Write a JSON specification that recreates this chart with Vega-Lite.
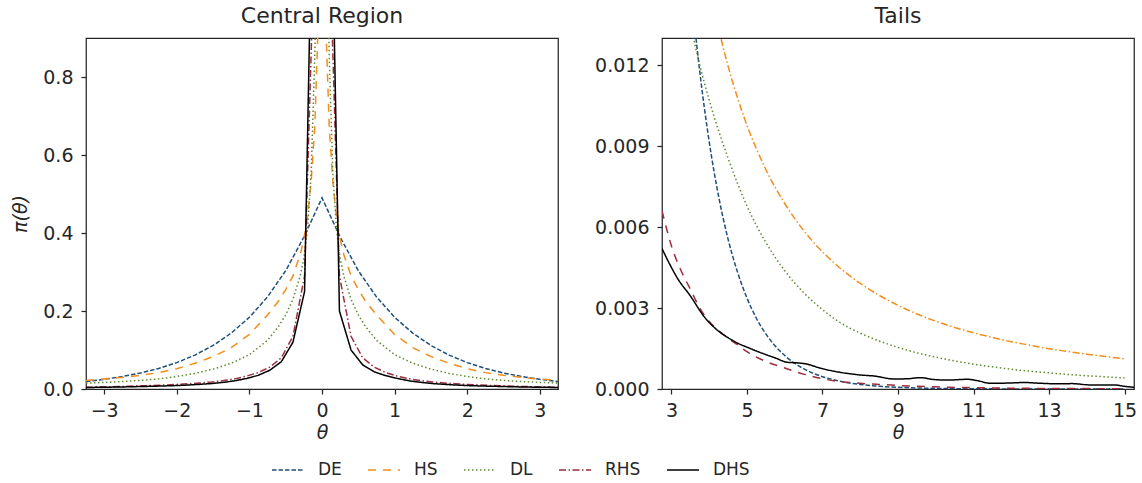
{
"$schema":"https://vega.github.io/schema/vega-lite/v6.json",
"background":"white",
"padding":{"left":11,"top":4,"right":5,"bottom":5},
"spacing":104,
"bounds":"flush",
"datasets":{
"central":[
{"s":"DE","x":-3.25,"y":0.0194},{"s":"DE","x":-3,"y":0.0249},{"s":"DE","x":-2.75,"y":0.032},{"s":"DE","x":-2.5,"y":0.041},{"s":"DE","x":-2.25,"y":0.0527},{"s":"DE","x":-2,"y":0.0677},{"s":"DE","x":-1.75,"y":0.0869},{"s":"DE","x":-1.5,"y":0.1116},{"s":"DE","x":-1.25,"y":0.1433},{"s":"DE","x":-1,"y":0.1839},{"s":"DE","x":-0.75,"y":0.2362},{"s":"DE","x":-0.5,"y":0.3033},{"s":"DE","x":-0.25,"y":0.3894},{"s":"DE","x":0,"y":0.49},{"s":"DE","x":0.25,"y":0.3894},{"s":"DE","x":0.5,"y":0.3033},{"s":"DE","x":0.75,"y":0.2362},{"s":"DE","x":1,"y":0.1839},{"s":"DE","x":1.25,"y":0.1433},{"s":"DE","x":1.5,"y":0.1116},{"s":"DE","x":1.75,"y":0.0869},{"s":"DE","x":2,"y":0.0677},{"s":"DE","x":2.25,"y":0.0527},{"s":"DE","x":2.5,"y":0.041},{"s":"DE","x":2.75,"y":0.032},{"s":"DE","x":3,"y":0.0249},{"s":"DE","x":3.25,"y":0.0194},
{"s":"HS","x":-3.25,"y":0.022},{"s":"HS","x":-3,"y":0.0255},{"s":"HS","x":-2.75,"y":0.03},{"s":"HS","x":-2.5,"y":0.035},{"s":"HS","x":-2.25,"y":0.042},{"s":"HS","x":-2,"y":0.052},{"s":"HS","x":-1.75,"y":0.066},{"s":"HS","x":-1.5,"y":0.083},{"s":"HS","x":-1.25,"y":0.106},{"s":"HS","x":-1,"y":0.14},{"s":"HS","x":-0.75,"y":0.19},{"s":"HS","x":-0.6,"y":0.225},{"s":"HS","x":-0.5,"y":0.255},{"s":"HS","x":-0.4,"y":0.29},{"s":"HS","x":-0.3,"y":0.345},{"s":"HS","x":-0.25,"y":0.385},{"s":"HS","x":-0.2,"y":0.44},{"s":"HS","x":-0.15,"y":0.53},{"s":"HS","x":-0.1,"y":0.67},{"s":"HS","x":-0.05,"y":0.95},{"s":"HS","x":0,"y":3},{"s":"HS","x":0.05,"y":0.95},{"s":"HS","x":0.1,"y":0.67},{"s":"HS","x":0.15,"y":0.53},{"s":"HS","x":0.2,"y":0.44},{"s":"HS","x":0.25,"y":0.385},{"s":"HS","x":0.3,"y":0.345},{"s":"HS","x":0.4,"y":0.29},{"s":"HS","x":0.5,"y":0.255},{"s":"HS","x":0.6,"y":0.225},{"s":"HS","x":0.75,"y":0.19},{"s":"HS","x":1,"y":0.14},{"s":"HS","x":1.25,"y":0.106},{"s":"HS","x":1.5,"y":0.083},{"s":"HS","x":1.75,"y":0.066},{"s":"HS","x":2,"y":0.052},{"s":"HS","x":2.25,"y":0.042},{"s":"HS","x":2.5,"y":0.035},{"s":"HS","x":2.75,"y":0.03},{"s":"HS","x":3,"y":0.0255},{"s":"HS","x":3.25,"y":0.022},
{"s":"DL","x":-3.25,"y":0.0151},{"s":"DL","x":-3,"y":0.0169},{"s":"DL","x":-2.75,"y":0.019},{"s":"DL","x":-2.5,"y":0.022},{"s":"DL","x":-2.25,"y":0.026},{"s":"DL","x":-2,"y":0.032},{"s":"DL","x":-1.75,"y":0.04},{"s":"DL","x":-1.5,"y":0.051},{"s":"DL","x":-1.25,"y":0.066},{"s":"DL","x":-1,"y":0.088},{"s":"DL","x":-0.75,"y":0.125},{"s":"DL","x":-0.6,"y":0.16},{"s":"DL","x":-0.5,"y":0.19},{"s":"DL","x":-0.4,"y":0.23},{"s":"DL","x":-0.3,"y":0.29},{"s":"DL","x":-0.25,"y":0.335},{"s":"DL","x":-0.2,"y":0.41},{"s":"DL","x":-0.15,"y":0.55},{"s":"DL","x":-0.1,"y":0.85},{"s":"DL","x":-0.05,"y":1.3},{"s":"DL","x":0,"y":3},{"s":"DL","x":0.05,"y":1.3},{"s":"DL","x":0.1,"y":0.85},{"s":"DL","x":0.15,"y":0.55},{"s":"DL","x":0.2,"y":0.41},{"s":"DL","x":0.25,"y":0.335},{"s":"DL","x":0.3,"y":0.29},{"s":"DL","x":0.4,"y":0.23},{"s":"DL","x":0.5,"y":0.19},{"s":"DL","x":0.6,"y":0.16},{"s":"DL","x":0.75,"y":0.125},{"s":"DL","x":1,"y":0.088},{"s":"DL","x":1.25,"y":0.066},{"s":"DL","x":1.5,"y":0.051},{"s":"DL","x":1.75,"y":0.04},{"s":"DL","x":2,"y":0.032},{"s":"DL","x":2.25,"y":0.026},{"s":"DL","x":2.5,"y":0.022},{"s":"DL","x":2.75,"y":0.019},{"s":"DL","x":3,"y":0.0169},{"s":"DL","x":3.25,"y":0.0151},
{"s":"RHS","x":-3.25,"y":0.0045},{"s":"RHS","x":-3.12,"y":0.0049},{"s":"RHS","x":-2.96,"y":0.0055},{"s":"RHS","x":-2.8,"y":0.0063},{"s":"RHS","x":-2.64,"y":0.0072},{"s":"RHS","x":-2.48,"y":0.0081},{"s":"RHS","x":-2.32,"y":0.0091},{"s":"RHS","x":-2.16,"y":0.0103},{"s":"RHS","x":-2,"y":0.0117},{"s":"RHS","x":-1.84,"y":0.0134},{"s":"RHS","x":-1.68,"y":0.0155},{"s":"RHS","x":-1.52,"y":0.018},{"s":"RHS","x":-1.36,"y":0.0215},{"s":"RHS","x":-1.2,"y":0.026},{"s":"RHS","x":-1.04,"y":0.033},{"s":"RHS","x":-0.88,"y":0.042},{"s":"RHS","x":-0.72,"y":0.056},{"s":"RHS","x":-0.56,"y":0.08},{"s":"RHS","x":-0.4,"y":0.135},{"s":"RHS","x":-0.24,"y":0.29},{"s":"RHS","x":-0.08,"y":1.3},{"s":"RHS","x":0.08,"y":1.3},{"s":"RHS","x":0.24,"y":0.29},{"s":"RHS","x":0.4,"y":0.135},{"s":"RHS","x":0.56,"y":0.08},{"s":"RHS","x":0.72,"y":0.056},{"s":"RHS","x":0.88,"y":0.042},{"s":"RHS","x":1.04,"y":0.033},{"s":"RHS","x":1.2,"y":0.026},{"s":"RHS","x":1.36,"y":0.0215},{"s":"RHS","x":1.52,"y":0.018},{"s":"RHS","x":1.68,"y":0.0155},{"s":"RHS","x":1.84,"y":0.0134},{"s":"RHS","x":2,"y":0.0117},{"s":"RHS","x":2.16,"y":0.0103},{"s":"RHS","x":2.32,"y":0.0091},{"s":"RHS","x":2.48,"y":0.0081},{"s":"RHS","x":2.64,"y":0.0072},{"s":"RHS","x":2.8,"y":0.0063},{"s":"RHS","x":2.96,"y":0.0055},{"s":"RHS","x":3.12,"y":0.0049},{"s":"RHS","x":3.25,"y":0.0045},
{"s":"DHS","x":-3.25,"y":0.0039},{"s":"DHS","x":-3.12,"y":0.0042},{"s":"DHS","x":-2.96,"y":0.0046},{"s":"DHS","x":-2.8,"y":0.0051},{"s":"DHS","x":-2.64,"y":0.0057},{"s":"DHS","x":-2.48,"y":0.0064},{"s":"DHS","x":-2.32,"y":0.0071},{"s":"DHS","x":-2.16,"y":0.0079},{"s":"DHS","x":-2,"y":0.0088},{"s":"DHS","x":-1.84,"y":0.0102},{"s":"DHS","x":-1.68,"y":0.012},{"s":"DHS","x":-1.52,"y":0.014},{"s":"DHS","x":-1.36,"y":0.017},{"s":"DHS","x":-1.2,"y":0.021},{"s":"DHS","x":-1.04,"y":0.027},{"s":"DHS","x":-0.88,"y":0.035},{"s":"DHS","x":-0.72,"y":0.048},{"s":"DHS","x":-0.56,"y":0.07},{"s":"DHS","x":-0.4,"y":0.12},{"s":"DHS","x":-0.24,"y":0.25},{"s":"DHS","x":-0.08,"y":1.8},{"s":"DHS","x":0.08,"y":1.8},{"s":"DHS","x":0.24,"y":0.2},{"s":"DHS","x":0.4,"y":0.1},{"s":"DHS","x":0.56,"y":0.062},{"s":"DHS","x":0.72,"y":0.044},{"s":"DHS","x":0.88,"y":0.034},{"s":"DHS","x":1.04,"y":0.027},{"s":"DHS","x":1.2,"y":0.021},{"s":"DHS","x":1.36,"y":0.017},{"s":"DHS","x":1.52,"y":0.014},{"s":"DHS","x":1.68,"y":0.012},{"s":"DHS","x":1.84,"y":0.0102},{"s":"DHS","x":2,"y":0.0088},{"s":"DHS","x":2.16,"y":0.0079},{"s":"DHS","x":2.32,"y":0.0071},{"s":"DHS","x":2.48,"y":0.0064},{"s":"DHS","x":2.64,"y":0.0057},{"s":"DHS","x":2.8,"y":0.0051},{"s":"DHS","x":2.96,"y":0.0046},{"s":"DHS","x":3.12,"y":0.0042},{"s":"DHS","x":3.25,"y":0.0039}
],
"tails":[
{"s":"DE","x":2.75,"y":0.03197},{"s":"DE","x":3,"y":0.02489},{"s":"DE","x":3.25,"y":0.01938},{"s":"DE","x":3.5,"y":0.0151},{"s":"DE","x":3.75,"y":0.01176},{"s":"DE","x":4,"y":0.00916},{"s":"DE","x":4.25,"y":0.00713},{"s":"DE","x":4.5,"y":0.00555},{"s":"DE","x":4.75,"y":0.00433},{"s":"DE","x":5,"y":0.00337},{"s":"DE","x":5.25,"y":0.00262},{"s":"DE","x":5.5,"y":0.00204},{"s":"DE","x":5.75,"y":0.00159},{"s":"DE","x":6,"y":0.00124},{"s":"DE","x":6.25,"y":0.000965},{"s":"DE","x":6.5,"y":0.000752},{"s":"DE","x":6.75,"y":0.000585},{"s":"DE","x":7,"y":0.000456},{"s":"DE","x":7.5,"y":0.000277},{"s":"DE","x":8,"y":0.000168},{"s":"DE","x":8.5,"y":0.000102},{"s":"DE","x":9,"y":0.0000617},{"s":"DE","x":9.5,"y":0.0000374},{"s":"DE","x":10,"y":0.0000227},{"s":"DE","x":11,"y":0.0000084},{"s":"DE","x":12,"y":0.0000031},{"s":"DE","x":13,"y":0.0000011},{"s":"DE","x":14,"y":0.0000004},{"s":"DE","x":15,"y":0.00000015},
{"s":"HS","x":2.75,"y":0.0298},{"s":"HS","x":3,"y":0.0255},{"s":"HS","x":3.5,"y":0.0192},{"s":"HS","x":4,"y":0.01496},{"s":"HS","x":4.25,"y":0.01334},{"s":"HS","x":4.5,"y":0.01196},{"s":"HS","x":4.75,"y":0.01078},{"s":"HS","x":5,"y":0.00977},{"s":"HS","x":5.5,"y":0.00813},{"s":"HS","x":6,"y":0.00687},{"s":"HS","x":6.5,"y":0.00587},{"s":"HS","x":7,"y":0.00508},{"s":"HS","x":7.5,"y":0.00444},{"s":"HS","x":8,"y":0.00391},{"s":"HS","x":8.5,"y":0.00347},{"s":"HS","x":9,"y":0.0031},{"s":"HS","x":9.5,"y":0.00278},{"s":"HS","x":10,"y":0.00251},{"s":"HS","x":10.5,"y":0.00228},{"s":"HS","x":11,"y":0.00208},{"s":"HS","x":11.5,"y":0.00191},{"s":"HS","x":12,"y":0.00175},{"s":"HS","x":12.5,"y":0.00162},{"s":"HS","x":13,"y":0.00149},{"s":"HS","x":13.5,"y":0.00139},{"s":"HS","x":14,"y":0.00129},{"s":"HS","x":14.5,"y":0.0012},{"s":"HS","x":15,"y":0.00112},
{"s":"DL","x":2.75,"y":0.019},{"s":"DL","x":3,"y":0.0169},{"s":"DL","x":3.25,"y":0.0151},{"s":"DL","x":3.5,"y":0.0135},{"s":"DL","x":3.75,"y":0.012},{"s":"DL","x":4,"y":0.0107},{"s":"DL","x":4.5,"y":0.00855},{"s":"DL","x":5,"y":0.00678},{"s":"DL","x":5.5,"y":0.00543},{"s":"DL","x":6,"y":0.00438},{"s":"DL","x":6.5,"y":0.00357},{"s":"DL","x":7,"y":0.00294},{"s":"DL","x":7.5,"y":0.00243},{"s":"DL","x":8,"y":0.00207},{"s":"DL","x":8.5,"y":0.00178},{"s":"DL","x":9,"y":0.00154},{"s":"DL","x":9.5,"y":0.00134},{"s":"DL","x":10,"y":0.00118},{"s":"DL","x":10.5,"y":0.00104},{"s":"DL","x":11,"y":0.00092},{"s":"DL","x":11.5,"y":0.00082},{"s":"DL","x":12,"y":0.00073},{"s":"DL","x":12.5,"y":0.00066},{"s":"DL","x":13,"y":0.0006},{"s":"DL","x":13.5,"y":0.00054},{"s":"DL","x":14,"y":0.00049},{"s":"DL","x":14.5,"y":0.00045},{"s":"DL","x":15,"y":0.00041},
{"s":"RHS","x":2.75,"y":0.0066},{"s":"RHS","x":3,"y":0.0053},{"s":"RHS","x":3.25,"y":0.0044},{"s":"RHS","x":3.5,"y":0.0037},{"s":"RHS","x":3.75,"y":0.003},{"s":"RHS","x":4,"y":0.0025},{"s":"RHS","x":4.25,"y":0.00216},{"s":"RHS","x":4.5,"y":0.00188},{"s":"RHS","x":4.75,"y":0.00164},{"s":"RHS","x":5,"y":0.00138},{"s":"RHS","x":5.5,"y":0.00102},{"s":"RHS","x":6,"y":0.00078},{"s":"RHS","x":6.5,"y":0.00055},{"s":"RHS","x":7,"y":0.00038},{"s":"RHS","x":7.5,"y":0.00027},{"s":"RHS","x":8,"y":0.00021},{"s":"RHS","x":8.5,"y":0.00017},{"s":"RHS","x":9,"y":0.00013},{"s":"RHS","x":9.5,"y":0.0001},{"s":"RHS","x":10,"y":0.00008},{"s":"RHS","x":10.5,"y":0.00006},{"s":"RHS","x":11,"y":0.00005},{"s":"RHS","x":12,"y":0.00003},{"s":"RHS","x":13,"y":0.00002},{"s":"RHS","x":14,"y":0.000015},{"s":"RHS","x":15,"y":0.00001},
{"s":"DHS","x":2.75,"y":0.0052},{"s":"DHS","x":3,"y":0.0045},{"s":"DHS","x":3.16,"y":0.0041},{"s":"DHS","x":3.51,"y":0.00343},{"s":"DHS","x":3.86,"y":0.00269},{"s":"DHS","x":4.26,"y":0.00213},{"s":"DHS","x":4.5,"y":0.0019},{"s":"DHS","x":4.75,"y":0.0017},{"s":"DHS","x":5,"y":0.00155},{"s":"DHS","x":5.28,"y":0.00139},{"s":"DHS","x":5.45,"y":0.0013},{"s":"DHS","x":5.75,"y":0.00115},{"s":"DHS","x":6.07,"y":0.00099},{"s":"DHS","x":6.3,"y":0.00097},{"s":"DHS","x":6.56,"y":0.00093},{"s":"DHS","x":6.95,"y":0.00077},{"s":"DHS","x":7.3,"y":0.00066},{"s":"DHS","x":7.75,"y":0.00056},{"s":"DHS","x":8,"y":0.00052},{"s":"DHS","x":8.37,"y":0.00048},{"s":"DHS","x":8.9,"y":0.00037},{"s":"DHS","x":9.25,"y":0.00038},{"s":"DHS","x":9.6,"y":0.00042},{"s":"DHS","x":9.9,"y":0.00036},{"s":"DHS","x":10.31,"y":0.00033},{"s":"DHS","x":10.84,"y":0.00036},{"s":"DHS","x":11.1,"y":0.00031},{"s":"DHS","x":11.46,"y":0.00021},{"s":"DHS","x":11.9,"y":0.00022},{"s":"DHS","x":12.34,"y":0.00024},{"s":"DHS","x":12.8,"y":0.00021},{"s":"DHS","x":13.31,"y":0.00019},{"s":"DHS","x":13.6,"y":0.0002},{"s":"DHS","x":14.1,"y":0.00015},{"s":"DHS","x":14.72,"y":0.00015},{"s":"DHS","x":15,"y":0.0001},{"s":"DHS","x":15.25,"y":0.00006}
]
},
"hconcat":[
{
"width":472,"height":351,
"title":"Central Region",
"data":{"name":"central"},
"mark":{"type":"line","clip":true,"strokeWidth":1.5},
"encoding":{
"x":{"field":"x","type":"quantitative","scale":{"domain":[-3.25,3.25],"nice":false,"zero":false},"axis":{"values":[-3,-2,-1,0,1,2,3],"format":"d","title":"θ"}},
"y":{"field":"y","type":"quantitative","scale":{"domain":[0,0.9],"nice":false},"axis":{"values":[0,0.2,0.4,0.6,0.8],"format":".1f","title":"π(θ)"}},
"color":{"field":"s","type":"nominal","sort":null,"scale":{"domain":["DE","HS","DL","RHS","DHS"],"range":["#1f4f7a","#f28e1c","#5f8a2e","#9b2d3f","#000000"]},
"legend":{"orient":"none","legendX":185,"legendY":415,"direction":"horizontal","title":null}},
"strokeDash":{"field":"s","type":"nominal","sort":null,"scale":{"domain":["DE","HS","DL","RHS","DHS"],"range":[[4.5,2],[8,7],[1.5,2.5],[7,2.5,1.5,2.5],[1,0]]},
"legend":{"orient":"none","legendX":185,"legendY":415,"direction":"horizontal","title":null}}
}
},
{
"width":472,"height":351,
"title":"Tails",
"data":{"name":"tails"},
"mark":{"type":"line","clip":true,"strokeWidth":1.5,"interpolate":"monotone"},
"encoding":{
"x":{"field":"x","type":"quantitative","scale":{"domain":[2.75,15.25],"nice":false,"zero":false},"axis":{"values":[3,5,7,9,11,13,15],"format":"d","title":"θ"}},
"y":{"field":"y","type":"quantitative","scale":{"domain":[0,0.013],"nice":false},"axis":{"values":[0,0.003,0.006,0.009,0.012],"format":".3f","title":null}},
"color":{"field":"s","type":"nominal","sort":null,"scale":{"domain":["DE","HS","DL","RHS","DHS"],"range":["#1f4f7a","#f28e1c","#5f8a2e","#9b2d3f","#000000"]},"legend":null},
"strokeDash":{"field":"s","type":"nominal","sort":null,"scale":{"domain":["DE","HS","DL","RHS","DHS"],"range":[[4.5,2],[7,2.5,1.5,2.5],[1.5,2.5],[8,7],[1,0]]},"legend":null}
}
}
],
"resolve":{"scale":{"color":"independent","strokeDash":"independent"},"legend":{"color":"independent","strokeDash":"independent"}},
"config":{
"font":"DejaVu Sans",
"view":{"stroke":"#262626","strokeWidth":1.25},
"axis":{"domain":false,"grid":false,"ticks":true,"tickSize":5,"tickColor":"#262626","tickWidth":1.25,"labelFontSize":19,"labelColor":"#262626","labelFont":"DejaVu Sans","titleFont":"DejaVu Sans","titleFontSize":19,"titleColor":"#262626","titleFontWeight":"normal","titleFontStyle":"italic","labelPadding":7,"titlePadding":3},
"axisY":{"labelPadding":8,"titlePadding":12},
"title":{"fontSize":22,"fontWeight":"normal","color":"#262626","font":"DejaVu Sans","offset":10},
"legend":{"symbolType":"stroke","symbolSize":1024,"symbolStrokeWidth":1.5,"labelFontSize":17,"labelFont":"DejaVu Sans","labelColor":"#262626","labelOffset":13,"columnPadding":23,"padding":0}
}
}
